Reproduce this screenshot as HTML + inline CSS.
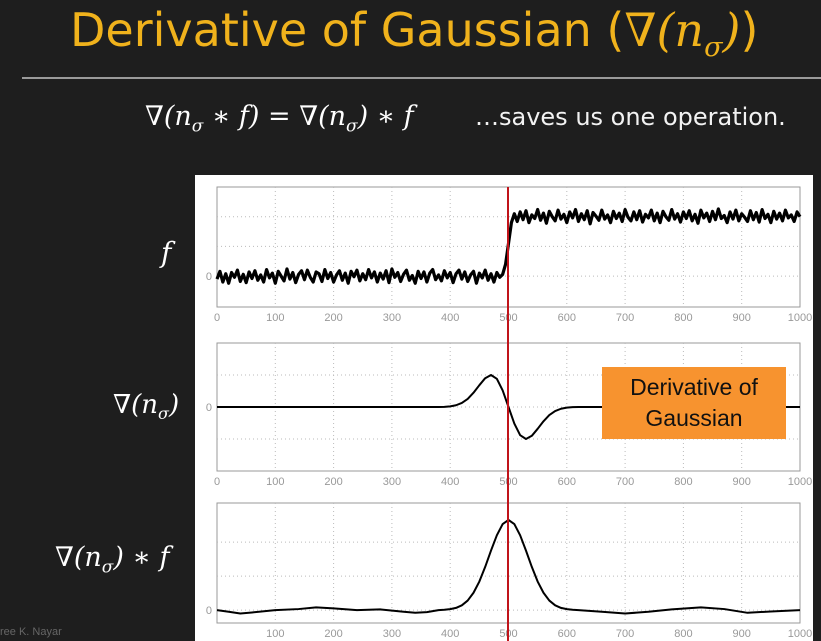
<!DOCTYPE html>
<html><head><meta charset="utf-8"><style>
body{margin:0;width:821px;height:641px;background:#1e1e1e;overflow:hidden;position:relative;font-family:"Liberation Sans",sans-serif}
.abs{position:absolute;white-space:nowrap}
.math{font-family:"DejaVu Serif","Liberation Serif",serif;font-style:italic;color:#fff}
</style></head><body>
<div class="abs" style="left:70px;top:3px;font-size:46px;color:#f0b21c;font-family:'DejaVu Sans',sans-serif">Derivative of Gaussian (<span style="font-family:'DejaVu Serif',serif;font-style:italic">∇(n<sub style="font-size:27px">σ</sub>)</span>)</div>
<div class="abs" style="left:22px;top:77px;width:799px;height:2px;background:#9a9a9a"></div>
<div class="abs math" style="left:145px;top:101px;font-size:27px">∇(n<sub style="font-size:17px">σ</sub> ∗ f) = ∇(n<sub style="font-size:17px">σ</sub>) ∗ f</div>
<div class="abs" style="left:475px;top:103px;font-size:24px;color:#f2f2f2;font-family:'DejaVu Sans',sans-serif">…saves us one operation.</div>
<div class="abs math" style="left:161px;top:236px;font-size:28px">f</div>
<div class="abs math" style="left:113px;top:390px;font-size:26px">∇(n<sub style="font-size:16px">σ</sub>)</div>
<div class="abs math" style="left:55px;top:542px;font-size:27px">∇(n<sub style="font-size:17px">σ</sub>) ∗ f</div>
<div class="abs" style="left:0;top:626px;font-size:11px;color:#666">ree K. Nayar</div>
<svg class="abs" style="left:0;top:0" width="821" height="641" id="svg">
<rect x="195" y="175" width="618" height="466" fill="#fff"/>
</svg>
<div class="abs" style="left:602px;top:367px;width:184px;height:72px;background:#f7932f;color:#111;font-size:23px;text-align:center;line-height:31px;padding-top:5px;box-sizing:border-box">Derivative of<br>Gaussian</div>
<script>
const xTicks=[0,100,200,300,400,500,600,700,800,900,1000];
const fLeft=[-0.05,0.08,-0.1,0.04,-0.12,0.06,-0.02,0.1,-0.09,0.03,-0.11,0.07,-0.04,0.09,-0.07,0.02,-0.1,0.11,-0.03,0.05,-0.12,0.08,0.0,-0.08,0.12,-0.05,0.06,-0.11,0.03,0.09,-0.06,0.1,-0.02,-0.1,0.07,0.04,-0.09,0.11,-0.04,0.06,-0.1,0.02,0.09,-0.07,0.05,-0.12,0.08,-0.01,0.1,-0.08,0.04,-0.06,0.11,-0.03,0.07,-0.1,0.05,-0.05,0.09,-0.11,0.12,-0.02,0.06,-0.09,0.03,0.1,-0.07,0.01,-0.12,0.08,-0.04,0.07,-0.1,0.05,0.11,-0.06,0.02,-0.08,0.09,-0.03,0.06,-0.11,0.04,0.1,-0.05,0.07,-0.09,0.02,0.08,-0.12,0.05,-0.03,0.1,-0.07,0.04,-0.1,0.06,-0.02,0.03];
const fStep=[0.2,0.55,0.9];
const fRight=[1.05,0.92,1.08,0.95,1.1,0.9,1.03,0.97,1.12,0.94,1.06,0.89,1.09,1.0,0.93,1.11,0.96,1.04,0.9,1.08,0.98,1.12,0.92,1.05,0.95,1.1,0.88,1.07,1.01,0.94,1.11,0.96,1.03,0.9,1.09,0.97,1.06,0.92,1.12,0.99,0.93,1.08,0.95,1.1,0.91,1.04,0.98,1.11,0.93,1.06,0.9,1.09,1.0,0.94,1.12,0.96,1.05,0.91,1.08,0.97,1.1,0.93,1.04,0.89,1.11,0.98,1.06,0.92,1.09,0.95,1.13,0.97,1.02,0.9,1.08,0.96,1.11,0.93,1.05,0.99,0.92,1.1,0.95,1.07,0.91,1.12,0.97,1.04,0.9,1.09,0.96,1.06,0.93,1.11,0.98,1.03,0.92,1.08,1.0];
const dogX=[0,380,390,400,410,420,430,440,450,460,470,480,490,500,510,520,530,540,550,560,570,580,590,600,610,620,1000];
const dogY=[0,0,0.005,0.023,0.06,0.138,0.278,0.49,0.75,0.99,1.1,0.97,0.57,0,-0.57,-0.97,-1.1,-0.99,-0.75,-0.49,-0.278,-0.138,-0.06,-0.023,-0.005,0,0];
const convX=[0,20,40,60,100,140,170,200,240,280,320,340,360,380,390,400,410,420,430,440,450,460,470,480,490,500,510,520,530,540,550,560,570,580,590,600,610,620,660,700,740,780,830,870,910,950,1000];
const convY=[0,-0.05,-0.1,-0.07,0,0.03,0.08,0.05,0,0.02,-0.05,-0.08,-0.06,0,0.01,0.027,0.064,0.14,0.28,0.51,0.84,1.27,1.75,2.2,2.53,2.65,2.53,2.2,1.75,1.27,0.84,0.51,0.28,0.14,0.064,0.027,0.01,0,-0.05,-0.1,-0.05,0.02,0.08,0.03,-0.08,-0.04,0];
const svg=document.getElementById('svg');const NS='http://www.w3.org/2000/svg';
function mk(t,a){const e=document.createElementNS(NS,t);for(const k in a)e.setAttribute(k,a[k]);svg.appendChild(e);return e;}
function panel(name,top,bottom,ymin,ymax,grid,showZero,xs,ys,lw){
 const L=217,R=800;const sx=v=>L+(v/1000)*(R-L);const sy=v=>bottom-(v-ymin)/(ymax-ymin)*(bottom-top);
 const fr=mk('rect',{x:L,y:top,width:R-L,height:bottom-top,fill:'#fff',stroke:'#999','stroke-width':1});
 
 xTicks.forEach(t=>{if(t>0&&t<1000){const g=mk('line',{x1:sx(t),x2:sx(t),y1:top,y2:bottom,stroke:'#bbb','stroke-dasharray':'1,3'});}
  if(showZero||t>0){const tx=mk('text',{x:sx(t),y:bottom+14,'text-anchor':'middle','font-size':11,fill:'#999','font-family':'Liberation Sans'});tx.textContent=t;}});
 grid.forEach(v=>{const g=mk('line',{x1:L,x2:R,y1:sy(v),y2:sy(v),stroke:'#bbb','stroke-dasharray':'1,3'});});
 const z=mk('text',{x:L-5,y:sy(0)+4,'text-anchor':'end','font-size':11,fill:'#999','font-family':'Liberation Sans'});z.textContent='0';
 const p=mk('polyline',{points:xs.map((x,i)=>sx(x)+','+sy(ys[i])).join(' '),fill:'none',stroke:'#000','stroke-width':lw,'stroke-linejoin':'round'});
 
}
const fY=fLeft.concat(fStep,fRight);const fX=fY.map((_,i)=>i*5);
panel('f-plot',187,307,-0.52,1.5,[0,0.5,1],true,fX,fY,3.2);
panel('dog-plot',343,471,-2.2,2.2,[-1.1,0,1.1],true,dogX,dogY,2);
panel('conv-plot',503,623,-0.38,3.15,[0,1,2],false,convX,convY,2);
const rl=mk('line',{x1:508,x2:508,y1:187,y2:641,stroke:'#c0141a','stroke-width':2});


</script>
</body></html>
